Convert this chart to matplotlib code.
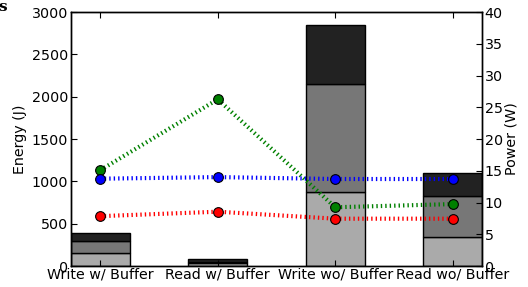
import matplotlib
matplotlib.use("Agg")
import matplotlib.pyplot as plt
import numpy as np

categories = ["Write w/ Buffer", "Read w/ Buffer", "Write wo/ Buffer", "Read wo/ Buffer"]
energy_bottom = [157, 30, 870, 346]
energy_mid = [142, 20, 1275, 484]
energy_top = [86, 30, 700, 268]
power_green = [15.1, 26.25, 9.25, 9.75]
power_blue = [13.75, 14.0, 13.7, 13.7]
power_red = [7.85, 8.55, 7.45, 7.45]

plt.rcParams['font.family'] = ['DejaVu Sans']
plt.rcParams['font.size'] = 10.3
plt.rcParams['lines.scale_dashes'] = False

fig = plt.figure(figsize=(5.28, 2.87), dpi=100)
ax = fig.add_axes([71/528, 1 - 266/287, (482-71)/528, (266-12)/287])
x = np.arange(len(categories))
w = 0.5
b1 = np.array(energy_bottom)
b2 = b1 + np.array(energy_mid)
ax.bar(x, energy_bottom, w, color='#aaaaaa', edgecolor='black', linewidth=1.0)
ax.bar(x, energy_mid, w, bottom=b1, color='#777777', edgecolor='black', linewidth=1.0)
ax.bar(x, energy_top, w, bottom=b2, color='#222222', edgecolor='black', linewidth=1.0)
ax.set_xlim(-0.25, 3.25)
ax.set_ylim(0, 3000)
ax.set_xticks(x)
ax.set_xticklabels(categories)
ax.set_ylabel("Energy (J)", labelpad=3.5)
ax.tick_params(direction='in', top=True, length=4, pad=2)
ax.tick_params(axis='x', pad=1)

ax2 = ax.twinx()
for vals, c in [(power_green, '#008000'), (power_blue, '#0000ff'), (power_red, '#ff0000')]:
    ax2.plot(x, vals, linestyle=(0, (1, 2.2)), dash_capstyle='butt', color=c, linewidth=3, marker='o',
             markersize=7, markerfacecolor=c, markeredgecolor='black', markeredgewidth=0.8)
ax2.set_ylim(0, 40)
ax2.set_xlim(-0.25, 3.25)
ax2.set_ylabel("Power (W)", labelpad=1)
ax2.tick_params(direction='in', length=4, pad=2)
for a in (ax, ax2):
    for s in a.spines.values():
        s.set_linewidth(1.0)

fig.text(-0.004, 1.0, 's', fontsize=11, fontweight='bold', family='serif', va='top', ha='left')
fig.savefig("out.png", dpi=100)
